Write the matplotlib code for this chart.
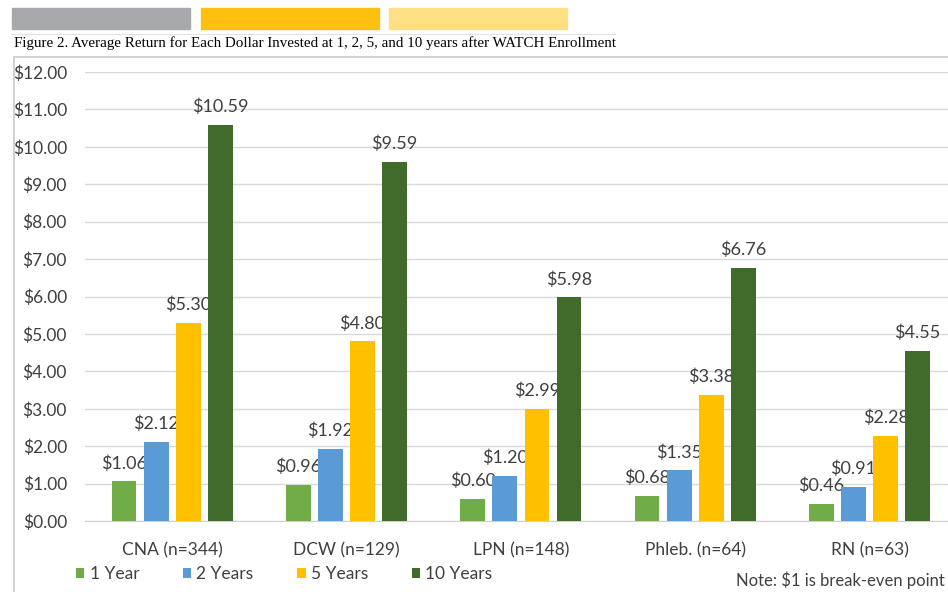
import numpy as np
import matplotlib
matplotlib.use('Agg')
import matplotlib.pyplot as plt
from matplotlib.patches import Rectangle
from matplotlib.lines import Line2D

categories = ['CNA (n=344)', 'DCW (n=129)', 'LPN (n=148)', 'Phleb. (n=64)', 'RN (n=63)']
series = ['1 Year', '2 Years', '5 Years', '10 Years']
yr1 = [1.06, 0.96, 0.60, 0.68, 0.46]
yr2 = [2.12, 1.92, 1.20, 1.35, 0.91]
yr5 = [5.30, 4.80, 2.99, 3.38, 2.28]
yr10 = [10.59, 9.59, 5.98, 6.76, 4.55]
colors = ['#70ad47', '#5b9bd5', '#ffc000', '#416b2a']

plt.rcParams['font.family'] = ['Lato', 'DejaVu Sans']

fig = plt.figure(figsize=(9.48, 5.92), dpi=100)

# header boxes + caption
fig.patches.append(Rectangle((12/948, 1-29/592), 178/948, 21/592, transform=fig.transFigure,
                             color='#a7a8ab', zorder=0))
fig.patches.append(Rectangle((201/948, 1-29/592), 178/948, 21/592, transform=fig.transFigure,
                             color='#fdc00f', zorder=0))
fig.patches.append(Rectangle((389/948, 1-29/592), 178/948, 21/592, transform=fig.transFigure,
                             color='#fedf84', zorder=0))
fig.lines.append(Line2D([12/948, 615/948], [1-34/592, 1-34/592], transform=fig.transFigure,
                        color='#e2e2e2', lw=0.8))
fig.text(14/948, 1-43/592, 'Figure 2. Average Return for Each Dollar Invested at 1, 2, 5, and 10 years after WATCH Enrollment',
         family='Liberation Serif', fontsize=10.8, va='center', ha='left')
# chart border
fig.patches.append(Rectangle((14/948, -0.1), 1.0, 1.1-57/592, transform=fig.transFigure,
                             fill=False, edgecolor='#c9c9c9', lw=1.2, zorder=0))

ax = fig.add_axes([85/948, 71/592, 1-85/948, (521-72)/592])
x = np.arange(len(categories))
w = 0.142
step = 0.184
for i, (vals, lab) in enumerate(zip([yr1, yr2, yr5, yr10], series)):
    pos = x + (i - 1.5) * step
    bars = ax.bar(pos, vals, w, color=colors[i], label=lab, zorder=3)
    for b, v in zip(bars, vals):
        ax.annotate('$%.2f' % v, (b.get_x() + b.get_width()/2, v), xytext=(0, 7),
                    textcoords='offset points', ha='center', va='bottom',
                    fontsize=13, color='#404040')

ax.set_ylim(0, 12)
ax.set_xlim(-0.5, 4.45)
ax.set_yticks(np.arange(0, 13, 1))
ax.set_yticklabels(['$%.2f' % t for t in np.arange(0, 13, 1)], fontsize=12.5, color='#404040')
ax.set_xticks(x)
ax.set_xticklabels(categories, fontsize=12.5, color='#404040')
ax.tick_params(axis='both', length=0)
ax.tick_params(axis='x', pad=15)
ax.tick_params(axis='y', pad=13)
ax.grid(axis='y', color='#d9d9d9', lw=1, zorder=0)
for s in ['top', 'right', 'left']:
    ax.spines[s].set_visible(False)
ax.spines['bottom'].set_color('#d0d0d0')

fig.legend(loc='lower left', bbox_to_anchor=(60/948, -0.01), ncol=4, frameon=False,
           fontsize=12.5, handlelength=0.5, handleheight=0.5, handletextpad=0.3,
           columnspacing=2.5, labelcolor='#404040')
fig.text(945/948, 1-580/592, 'Note: $1 is break-even point', fontsize=12, color='#404040',
         va='center', ha='right')

fig.savefig('out.png', dpi=100)
